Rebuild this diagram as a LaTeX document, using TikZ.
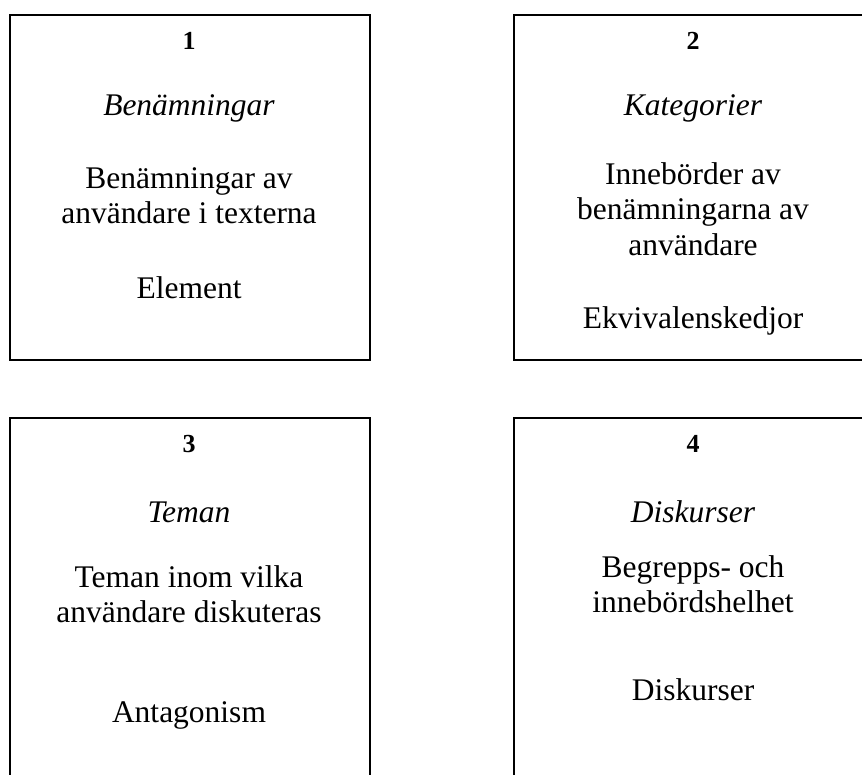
\documentclass[tikz,border=0pt]{standalone}
\usepackage{fontspec}
\setmainfont{Liberation Serif}
\begin{document}
\begin{tikzpicture}[x=1pt,y=-1pt,
  box/.style={draw, line width=1.5pt, minimum width=360pt, anchor=north west, inner sep=0pt},
  num/.style={anchor=base, font=\fontsize{26}{30}\selectfont\bfseries, inner sep=0pt},
  ttl/.style={anchor=base, font=\fontsize{31.5}{36}\selectfont\itshape, inner sep=0pt},
  txt/.style={anchor=base, font=\fontsize{31.5}{36}\selectfont, inner sep=0pt}]
\useasboundingbox (0,0) rectangle (862,774);
\clip (0,0) rectangle (862,774);
% boxes
\node[box, minimum height=345pt] (b1) at (9,14) {};
\node[box, minimum height=345pt] (b2) at (513,14) {};
\node[box, minimum height=380pt] (b3) at (9,417) {};
\node[box, minimum height=380pt] (b4) at (513,417) {};
% box 1
\node[num] (n1) at (189,49) {1};
\node[ttl] (t1) at (189,115) {Benämningar};
\node[txt] (a1) at (189,188) {Benämningar av};
\node[txt] (a2) at (189,223) {användare i texterna};
\node[txt] (a3) at (189,298) {Element};
% box 2
\node[num] (n2) at (693,49) {2};
\node[ttl] (t2) at (693,115) {Kategorier};
\node[txt] (c1) at (693,184) {Innebörder av};
\node[txt] (c2) at (693,219) {benämningarna av};
\node[txt] (c3) at (693,255) {användare};
\node[txt] (c4) at (693,328) {Ekvivalenskedjor};
% box 3
\node[num] (n3) at (189,452) {3};
\node[ttl] (t3) at (189,522) {Teman};
\node[txt] (d1) at (189,587) {Teman inom vilka};
\node[txt] (d2) at (189,622) {användare diskuteras};
\node[txt] (d3) at (189,722) {Antagonism};
% box 4
\node[num] (n4) at (693,452) {4};
\node[ttl] (t4) at (693,522) {Diskurser};
\node[txt] (e1) at (693,577) {Begrepps- och};
\node[txt] (e2) at (693,612) {innebördshelhet};
\node[txt] (e3) at (693,700) {Diskurser};
\end{tikzpicture}
\end{document}
